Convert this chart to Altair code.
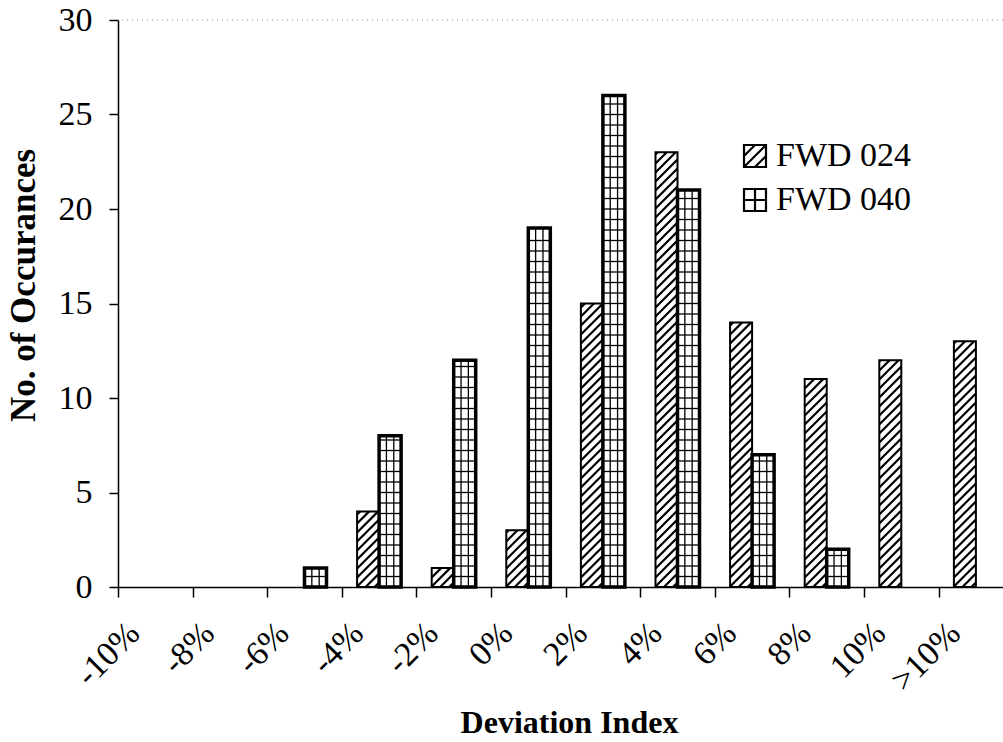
import json

import altair as alt
import pandas as pd

# Deviation-index bins and the number of occurrences for each FWD unit
categories = ["-10%", "-8%", "-6%", "-4%", "-2%", "0%", "2%", "4%", "6%", "8%", "10%", ">10%"]
fwd_024 = [0, 0, 0, 4, 1, 3, 15, 23, 14, 11, 12, 13]
fwd_040 = [0, 0, 1, 8, 12, 19, 26, 21, 7, 2, 0, 0]
series_names = ["FWD 024", "FWD 040"]
y_ticks = [0, 5, 10, 15, 20, 25, 30]

rows = []
for i, cat in enumerate(categories):
    rows.append({"idx": i, "category": cat, "series": series_names[0], "count": fwd_024[i]})
    rows.append({"idx": i, "category": cat, "series": series_names[1], "count": fwd_040[i]})
df = pd.DataFrame(rows)

# Layout / style constants
FONT = "Liberation Serif"
STEP = 74.6             # pixels per category
PLOT_W = 885
PLOT_H = 567
Y_MAX = 30
X_MAX = PLOT_W / STEP   # the last category runs off the right edge
PX_PER_COUNT = PLOT_H / Y_MAX
GAP = 0.205             # space before the first bar of a group (category units)
BAR_W = 0.295           # width of one bar (category units)
SLOPE = STEP / PX_PER_COUNT          # 45 degree hatch expressed in data units
HATCH_D = 9.0 / PX_PER_COUNT         # vertical spacing of hatch lines
GRID_H = 10.5 / PX_PER_COUNT         # row height of the grid pattern

HATCH_SYMBOL = "M-1,-1H1V1H-1Z M-1,0L0,-1 M-1,1L1,-1 M0,1L1,0"
GRID_SYMBOL = "M-1,-1H1V1H-1Z M0,-1V1 M-1,0H1"

x_scale = alt.Scale(domain=[0, X_MAX], nice=False, zero=False)
y_scale = alt.Scale(domain=[0, Y_MAX], nice=False)

label_expr = json.dumps(categories) + "[datum.value]"
x_axis = alt.Axis(
    values=list(range(len(categories))),
    labelExpr=label_expr,
    labelOffset=16,
    labelAngle=-45,
    labelAlign="right",
    labelBaseline="middle",
    labelPadding=31,
    labelFlush=False,
    labelOverlap=False,
    labelBound=False,
    tickSize=10,
    grid=False,
    title="Deviation Index",
    titleX=451,
    titleY=145,
    titleBaseline="alphabetic",
    titleAnchor="middle",
    titleAlign="center",
    titleFontSize=32,
)
y_axis = alt.Axis(
    values=y_ticks,
    tickSize=9,
    labelPadding=17,
    grid=False,
    title="No. of Occurances",
    titleFontSize=35,
    titleY=265,
    titlePadding=17,
)

base = (
    alt.Chart(df)
    .transform_calculate(x0=f"datum.idx + (datum.series == '{series_names[0]}' ? {GAP} : {GAP + BAR_W})")
    .transform_calculate(x1=f"datum.x0 + {BAR_W}", base="0")
)

X = lambda f: alt.X(f, scale=x_scale, axis=x_axis)
Y = lambda f: alt.Y(f, scale=y_scale, axis=y_axis)

is_040 = f"datum.series == '{series_names[1]}'"

# white bar bodies
bodies = base.mark_rect(fill="white", stroke=None).encode(
    x=X("x0:Q"), x2="x1:Q", y=Y("count:Q"), y2="base:Q"
)

# diagonal hatch for FWD 024
hatch = (
    base.transform_filter(f"datum.series == '{series_names[0]}' && datum.count > 0")
    .transform_calculate(n=f"ceil((datum.count + {SLOPE * BAR_W}) / {HATCH_D})")
    .transform_calculate(k="sequence(0, datum.n)")
    .transform_flatten(["k"])
    .transform_calculate(c=f"(datum.k + 0.5) * {HATCH_D} - {SLOPE * BAR_W}")
    .transform_filter("datum.c < datum.count")
    .transform_calculate(
        xa=f"datum.c >= 0 ? datum.x0 : datum.x0 - datum.c / {SLOPE}",
        ya="max(datum.c, 0)",
    )
    .transform_calculate(
        xb=f"datum.c + {SLOPE * BAR_W} <= datum.count ? datum.x1 : datum.x0 + (datum.count - datum.c) / {SLOPE}",
        yb=f"min(datum.c + {SLOPE * BAR_W}, datum.count)",
    )
    .mark_rule(color="black", strokeWidth=2.2)
    .encode(x=X("xa:Q"), x2="xb:Q", y=Y("ya:Q"), y2="yb:Q")
)

# grid pattern for FWD 040: two vertical dividers ...
grid_v = (
    base.transform_filter(f"{is_040} && datum.count > 0")
    .transform_calculate(j="[1, 2]")
    .transform_flatten(["j"])
    .transform_calculate(xv=f"datum.x0 + datum.j * {BAR_W / 3}")
    .mark_rule(color="black", strokeWidth=1.3)
    .encode(x=X("xv:Q"), y=Y("base:Q"), y2="count:Q")
)
# ... and horizontal rows
grid_h = (
    base.transform_filter(f"{is_040} && datum.count > 0")
    .transform_calculate(m=f"floor(datum.count / {GRID_H})")
    .transform_calculate(k="sequence(1, datum.m + 1)")
    .transform_flatten(["k"])
    .transform_calculate(yh=f"datum.k * {GRID_H}")
    .transform_filter("datum.yh < datum.count - 0.15")
    .mark_rule(color="black", strokeWidth=1.3)
    .encode(x=X("x0:Q"), x2="x1:Q", y=Y("yh:Q"))
)

# bar outlines on top of the patterns (empty bins stay flat on the axis)
outlines = (
    base.transform_filter("datum.count > 0")
    .mark_rect(fillOpacity=0, stroke="black")
    .encode(
        x=X("x0:Q"),
        x2="x1:Q",
        y=Y("count:Q"),
        y2="base:Q",
        strokeWidth=alt.condition(is_040, alt.value(3.5), alt.value(2)),
    )
)

# faint dotted border at the top of the value range
top_line = (
    alt.Chart(pd.DataFrame({"top": [Y_MAX]}))
    .mark_rule(color="#777777", strokeWidth=1, strokeDash=[1, 4], opacity=0.8)
    .encode(y=Y("top:Q"))
)

# legend carrying the fill patterns as symbols
legend_layer = (
    alt.Chart(df)
    .transform_filter("false")
    .mark_point(filled=False, color="black", opacity=1)
    .encode(
        x=X("idx:Q"),
        y=Y("count:Q"),
        shape=alt.Shape(
            "series:N",
            scale=alt.Scale(domain=series_names, range=[HATCH_SYMBOL, GRID_SYMBOL]),
            legend=alt.Legend(
                title=None,
                orient="none",
                legendX=620,
                legendY=119,
                symbolSize=484,
                symbolStrokeWidth=2.2,
                symbolStrokeColor="black",
                symbolFillColor="white",
                symbolOpacity=1,
                labelFont=FONT,
                labelFontSize=34,
                labelColor="black",
                labelOffset=4,
                rowPadding=10,
                padding=0,
            ),
        ),
    )
)

chart = (
    alt.layer(top_line, bodies, hatch, grid_v, grid_h, outlines, legend_layer)
    .properties(
        width=PLOT_W,
        height=PLOT_H,
        padding={"left": 118, "top": 20, "right": 0, "bottom": 155},
        autosize=alt.AutoSizeParams(type="none"),
        background="white",
    )
    .configure_view(stroke=None)
    .configure_axis(
        domainColor="black",
        domainWidth=1.5,
        tickColor="black",
        tickWidth=1.5,
        labelFont=FONT,
        labelFontSize=34,
        labelColor="black",
        titleFont=FONT,
        titleFontWeight="bold",
        titleColor="black",
    )
)

chart.save("out.html", embed_options={"renderer": "svg", "actions": False})
